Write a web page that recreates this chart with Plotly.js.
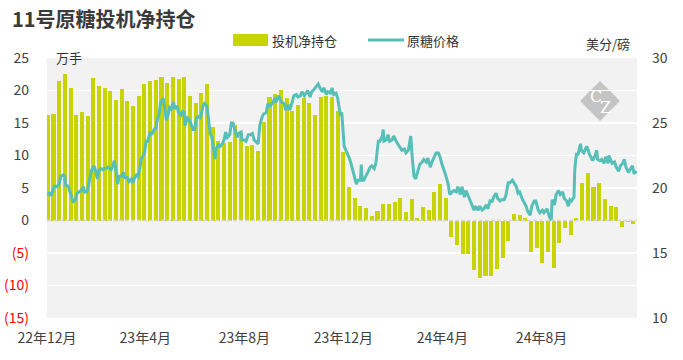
<!DOCTYPE html>
<html>
<head>
<meta charset="utf-8">
<script src="https://cdn.plot.ly/plotly-3.0.1.min.js"></script>
<style>html,body{margin:0;padding:0;background:#fff;}#chart{width:683px;height:360px;}</style>
</head>
<body>
<div id="chart"></div>
<script>
// ---- Data ----
const barStart = '2022-12-02';          // first weekly report (Fri)
const barValues = [16.2,16.4,21.5,22.5,20.4,16.2,16.7,16.1,21.9,20.7,
  20.4,19.9,18.5,20.2,18.4,17.6,19.2,21.0,21.5,21.6,
  22.1,21.2,22.1,21.8,22.1,19.2,18.1,19.6,21.0,14.4,
  12.2,12.0,12.1,14.7,13.4,11.4,11.6,10.7,15.2,19.0,
  19.5,20.1,18.8,16.8,17.8,18.8,18.1,16.2,19.0,19.2,
  19.0,16.8,10.6,5.2,3.5,2.3,2.0,0.7,1.5,2.5,
  2.5,2.8,3.5,1.3,3.3,0.4,2.1,1.6,4.4,5.6,
  3.5,-2.5,-3.7,-5.1,-5.1,-7.6,-8.8,-8.5,-8.5,-7.4,
  -5.7,-3.1,1.0,0.85,0.4,-4.8,-4.3,-6.5,-4.8,-7.3,
  -3.4,-1.1,-2.2,0.4,5.8,7.3,5.15,5.8,3.3,2.2,
  2.1,-0.95,-0.3,-0.6];

const lineStart = '2022-12-01';
const lineDays = [0,3,5,9,12,15,17,20,22,23,26,28,30,32,35,37,39,42,45,46,49,51,53,55,58,60,62,64,66,69,70,73,75,77,79,81,83,85,87,89,92,94,96,99,101,104,106,108,110,112,114,116,118,120,122,124,
  127,129,132,134,136,138,140,143,145,147,149,151,153,156,157,160,162,165,167,169,170,173,175,178,180,182,184,187,189,192,194,197,199,201,203,205,207,208,211,213,216,218,220,222,225,227,229,231,234,236,239,240,243,245,248,
  250,253,255,257,260,262,265,267,270,272,275,277,280,282,285,287,289,292,294,297,299,302,304,307,309,312,314,317,319,321,324,326,329,331,334,336,339,341,344,346,349,351,353,356,358,361,363,366,368,371,
  373,376,378,381,383,386,387,388,390,393,395,398,400,403,405,408,410,413,414,415,418,420,422,425,427,430,432,435,437,440,442,445,447,448,450,452,454,457,459,462,464,467,469,472,474,477,479,482,484,486,489,491,494,
  496,499,501,504,506,509,511,514,516,518,521,523,526,528,531,533,536,538,541,543,546,548,550,553,555,558,560,563,565,568,570,573,575,578,580,582,585,587,590,592,595,597,600,602,605,607,610,612,
  616,618,621,622,625,627,630,632,635,637,640,642,644,646,649,650,652,654,657,658,661,663,665,668,670,672,675,677,678,681,683,686,688,691,692,694,696,699,701,704,706,709,711,713,716,718,721,723,726];
const linePrices = [19.5,19.6,19.4,20.15,20.1,20.3,20.9,21.0,20.9,20.2,20.15,19.8,19.4,18.9,19.1,19.6,19.7,19.8,20.1,19.7,19.7,20.1,20.9,21.4,21.7,21.3,20.7,21.3,21.5,21.4,21.5,21.5,21.6,21.5,21.4,21.7,22.1,21.3,20.3,20.9,20.9,21.2,20.8,20.8,20.5,20.7,20.4,20.8,21.0,20.9,21.4,22.2,22.4,22.7,23.6,23.6,
  24.3,24.1,24.5,24.6,25.3,25.7,26.6,26.9,26.2,25.2,25.6,26.2,26.1,26.6,26.1,26.3,25.8,25.6,25.9,25.8,24.8,25.4,25.3,24.8,24.5,24.5,25.4,25.5,25.4,26.3,26.5,26.3,25.4,24.2,23.9,23.1,22.2,23.0,23.3,23.2,23.4,23.7,24.3,23.9,24.1,25.0,25.0,24.6,23.9,24.2,24.3,23.7,23.7,23.6,24.1,
  24.1,24.2,23.7,23.6,23.4,24.8,25.5,25.7,25.8,26.5,26.3,26.5,26.8,26.6,27.1,26.8,26.6,26.5,26.0,26.4,26.0,26.6,27.1,27.2,27.0,27.1,27.4,27.1,27.3,27.5,27.0,27.4,27.6,27.8,28.0,27.7,27.4,27.7,27.2,27.4,27.3,27.7,27.2,27.3,26.9,25.7,25.8,23.2,22.9,22.4,
  22.2,21.5,21.0,20.3,20.6,20.6,21.8,20.6,20.6,20.9,21.2,21.6,21.7,21.5,21.9,23.6,23.6,24.0,24.5,23.6,23.7,24.1,23.6,23.7,24.0,23.6,23.4,23.1,22.9,23.0,22.7,22.9,23.95,24.0,22.2,20.9,20.7,21.3,21.8,22.0,22.2,22.0,22.3,21.6,22.0,22.4,22.7,22.7,22.4,21.9,21.4,21.0,20.3,
  19.5,19.7,19.8,19.7,20.1,19.5,20.1,19.3,19.8,19.5,19.0,18.7,18.3,18.6,18.3,18.6,18.3,18.4,18.7,18.4,19.1,18.9,19.3,19.6,19.2,19.0,19.1,19.1,19.4,20.4,20.4,20.6,20.4,20.1,19.6,19.7,19.2,19.0,18.6,18.2,17.9,18.6,19.0,19.0,18.3,18.1,18.3,18.1,
  18.4,17.9,17.5,19.1,18.7,19.5,19.8,19.5,19.7,19.2,19.0,18.6,19.1,19.0,19.3,21.5,22.6,22.6,23.4,22.9,22.7,23.0,23.2,22.6,22.4,22.1,22.5,22.9,22.2,22.1,22.2,21.9,22.4,21.9,22.5,22.2,21.9,22.0,21.6,21.3,21.7,21.9,22.2,21.6,21.2,21.4,21.7,21.1,21.3];

const xTickVals = ['2022-12-01','2023-04-01','2023-08-01','2023-12-01','2024-04-01','2024-08-01'];
const xTickText = ['22年12月','23年4月','23年8月','23年12月','24年4月','24年8月'];
const leftTickVals = [-15,-10,-5,0,5,10,15,20,25];
const leftTickText = ['(15)','(10)','(5)','0','5','10','15','20','25'];
const rightTickVals = [10,15,20,25,30];

// ---- Build ----
const DAY = 86400000;
const b0 = Date.parse(barStart + 'T00:00:00Z');
const barX = barValues.map((_, i) => b0 + i * 7 * DAY);
const l0 = Date.parse(lineStart + 'T00:00:00Z');
const lineX = lineDays.map(d => l0 + d * DAY);

const FONT = '"Noto Sans CJK SC", "Noto Sans", sans-serif';
const TXT = '#404040';
const BAR = '#C8D400';
const LINE = '#55BFB8';

const leftText = leftTickText.map((t, i) => leftTickVals[i] < 0 ? '<span style="color:#FF0000">' + t + '</span>' : t);

const traces = [
  {type: 'bar', x: barX, y: barValues, name: '投机净持仓', marker: {color: BAR}, width: 5 * DAY, yaxis: 'y', xaxis: 'x', showlegend: false, hoverinfo: 'skip'},
  {type: 'scatter', mode: 'lines', x: lineX, y: linePrices, name: '原糖价格', line: {color: LINE, width: 3}, yaxis: 'y2', xaxis: 'x', showlegend: false, hoverinfo: 'skip'}
];

// paper helpers (plot area 47..637 x, 58..318 y)
const px = v => (v - 47) / 590;
const py = v => (318 - v) / 260;

const layout = {
  width: 683, height: 360,
  margin: {l: 47, r: 46, t: 58, b: 42, pad: 0},
  paper_bgcolor: '#FFFFFF',
  plot_bgcolor: '#F2F2F2',
  font: {family: FONT, color: TXT, size: 14},
  showlegend: false,
  bargap: 0,
  title: {text: '11号原糖投机净持仓', x: 12 / 683, xanchor: 'left', xref: 'container', y: 1 - 20 / 360, yanchor: 'middle', yref: 'container',
    font: {family: FONT, size: 20, color: '#3A3A3A', weight: 'bold'}},
  xaxis: {type: 'date', range: ['2022-12-01', '2024-11-26 14:00'], tickvals: xTickVals, ticktext: xTickText,
    showgrid: false, zeroline: false, showline: false, ticks: '', ticklabelstandoff: 10,
    tickfont: {size: 14, color: TXT, family: FONT}},
  xaxis2: {type: 'date', overlaying: 'x', anchor: 'free', position: 0.375, range: ['2022-12-01', '2024-11-26 14:00'],
    tickvals: xTickVals, showticklabels: false, ticks: 'outside', ticklen: 4, tickcolor: '#D0D0D0', tickwidth: 1,
    showgrid: false, zeroline: false, showline: false},
  yaxis: {range: [-15, 25], tickvals: leftTickVals, ticktext: leftText, showgrid: true, gridcolor: '#FFFFFF', gridwidth: 1.5,
    zeroline: false, showline: false, ticks: '', ticklabelstandoff: 17, tickfont: {size: 14, color: TXT, family: FONT}},
  yaxis2: {overlaying: 'y', side: 'right', range: [10, 30], tickvals: rightTickVals, showgrid: false, zeroline: false,
    showline: false, ticks: '', ticklabelstandoff: 14, tickfont: {size: 14, color: TXT, family: FONT}},
  shapes: [
    {type: 'line', xref: 'paper', yref: 'y', x0: 0, x1: 1, y0: 0, y1: 0, line: {color: '#D8D8D0', width: 1.5, dash: '4px,2px'}, layer: 'above'},
    // watermark diamond
    {type: 'path', xref: 'paper', yref: 'paper', path: `M ${px(600)},${py(81)} L ${px(620)},${py(101)} L ${px(600)},${py(121)} L ${px(580)},${py(101)} Z`,
      fillcolor: '#C4C4C4', line: {width: 0}, layer: 'below'},
    // manual legend symbols
    {type: 'rect', xref: 'paper', yref: 'paper', x0: px(233), x1: px(268), y0: py(46), y1: py(34), fillcolor: BAR, line: {width: 0}},
    {type: 'line', xref: 'paper', yref: 'paper', x0: px(368), x1: px(404), y0: py(40), y1: py(40), line: {color: LINE, width: 3}}
  ],
  annotations: [
    {text: '投机净持仓', xref: 'paper', yref: 'paper', x: px(270), y: py(40), xanchor: 'left', yanchor: 'middle', showarrow: false, font: {size: 13, color: '#333333', family: FONT}},
    {text: '原糖价格', xref: 'paper', yref: 'paper', x: px(405), y: py(40), xanchor: 'left', yanchor: 'middle', showarrow: false, font: {size: 13, color: '#333333', family: FONT}},
    {text: '万手', xref: 'paper', yref: 'paper', x: px(54), y: py(57), xanchor: 'left', yanchor: 'middle', showarrow: false, font: {size: 13, color: '#333333', family: FONT}},
    {text: '美分/磅', xref: 'paper', yref: 'paper', x: px(632), y: py(44), xanchor: 'right', yanchor: 'middle', showarrow: false, font: {size: 13, color: '#333333', family: FONT}},
    {text: 'C', xref: 'paper', yref: 'paper', x: px(596), y: py(96), xanchor: 'center', yanchor: 'middle', showarrow: false, font: {size: 16, color: '#FFFFFF', family: '"DejaVu Serif", "Liberation Serif", serif'}},
    {text: 'Z', xref: 'paper', yref: 'paper', x: px(605), y: py(107), xanchor: 'center', yanchor: 'middle', showarrow: false, font: {size: 16, color: '#FFFFFF', family: '"DejaVu Serif", "Liberation Serif", serif'}}
  ]
};

Plotly.newPlot('chart', traces, layout, {staticPlot: true, displayModeBar: false});
</script>
</body>
</html>
